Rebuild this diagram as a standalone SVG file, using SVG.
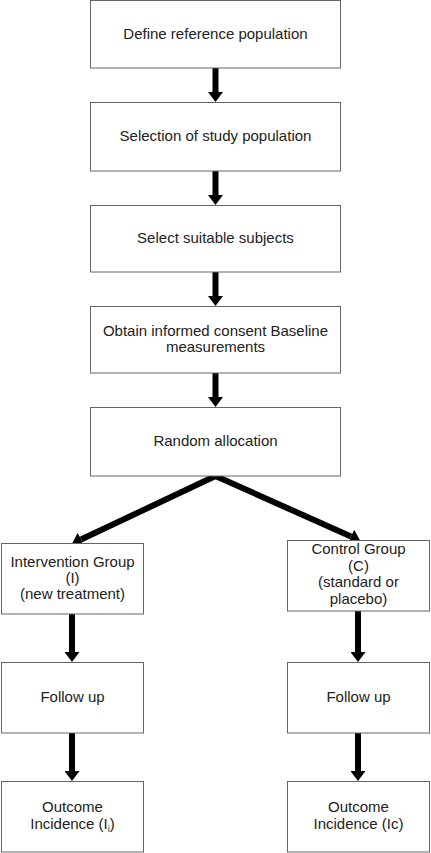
<svg xmlns="http://www.w3.org/2000/svg" width="431" height="853" viewBox="0 0 431 853">
<style>
.box{fill:#fff;stroke:#666;stroke-width:1}
.t{font-family:"Liberation Sans",Arial,sans-serif;font-size:15px;fill:#222;text-anchor:middle}
.c{stroke:#000;stroke-width:6;fill:none}
</style>
<defs>
<marker id="ah" viewBox="0 0 10 15" refX="0" refY="7.5" markerWidth="10" markerHeight="15" markerUnits="userSpaceOnUse" orient="auto">
<path d="M0,0 L10,7.5 L0,15 z" fill="#000"/>
</marker>
</defs>
<rect width="431" height="853" fill="#fff"/>
<g id="connectors">
<line class="c" x1="215.5" y1="68" x2="215.5" y2="92" marker-end="url(#ah)"/>
<line class="c" x1="215.5" y1="171" x2="215.5" y2="195" marker-end="url(#ah)"/>
<line class="c" x1="215.5" y1="272" x2="215.5" y2="296" marker-end="url(#ah)"/>
<line class="c" x1="215.5" y1="373" x2="215.5" y2="397" marker-end="url(#ah)"/>
<line class="c" x1="215.5" y1="476" x2="81" y2="539.5" marker-end="url(#ah)"/>
<line class="c" x1="215.5" y1="476" x2="351" y2="536.5" marker-end="url(#ah)"/>
<line class="c" x1="72" y1="614" x2="72" y2="652" marker-end="url(#ah)"/>
<line class="c" x1="358" y1="611" x2="358" y2="652" marker-end="url(#ah)"/>
<line class="c" x1="72" y1="733" x2="72" y2="771" marker-end="url(#ah)"/>
<line class="c" x1="358" y1="733" x2="358" y2="771" marker-end="url(#ah)"/>
</g>
<g id="n1"><rect class="box" x="90.5" y="0.5" width="250" height="67.5"/><text class="t" x="215.5" y="39">Define reference population</text></g>
<g id="n2"><rect class="box" x="90.5" y="102.5" width="250" height="68.5"/><text class="t" x="215.5" y="141">Selection of study population</text></g>
<g id="n3"><rect class="box" x="90.5" y="205.5" width="250" height="66.5"/><text class="t" x="215.5" y="243">Select suitable subjects</text></g>
<g id="n4"><rect class="box" x="90.5" y="306.5" width="250" height="66.5"/><text class="t" x="215.5" y="336">Obtain informed consent Baseline</text><text class="t" x="215.5" y="352">measurements</text></g>
<g id="n5"><rect class="box" x="90.5" y="407.5" width="250" height="68.5"/><text class="t" x="215.5" y="446">Random allocation</text></g>
<g id="n6"><rect class="box" x="1.5" y="543.5" width="142" height="70.5"/><text class="t" x="72.5" y="567">Intervention Group</text><text class="t" x="72.5" y="583">(I)</text><text class="t" x="72.5" y="599">(new treatment)</text></g>
<g id="n7"><rect class="box" x="287.5" y="540.5" width="142" height="70.5"/><text class="t" x="358.5" y="554">Control Group</text><text class="t" x="358.5" y="571">(C)</text><text class="t" x="358.5" y="587">(standard or</text><text class="t" x="358.5" y="604">placebo)</text></g>
<g id="n8"><rect class="box" x="1.5" y="662.5" width="142" height="70.5"/><text class="t" x="72.5" y="702">Follow up</text></g>
<g id="n9"><rect class="box" x="287.5" y="662.5" width="142" height="70.5"/><text class="t" x="358.5" y="702">Follow up</text></g>
<g id="n10"><rect class="box" x="1.5" y="781.5" width="142" height="70.5"/><text class="t" x="72.5" y="812">Outcome</text><text class="t" x="72.5" y="829">Incidence (I<tspan font-size="9" dy="3">i</tspan><tspan dy="-3">)</tspan></text></g>
<g id="n11"><rect class="box" x="287.5" y="781.5" width="142" height="70.5"/><text class="t" x="358.5" y="812">Outcome</text><text class="t" x="358.5" y="829">Incidence (Ic)</text></g>
</svg>
